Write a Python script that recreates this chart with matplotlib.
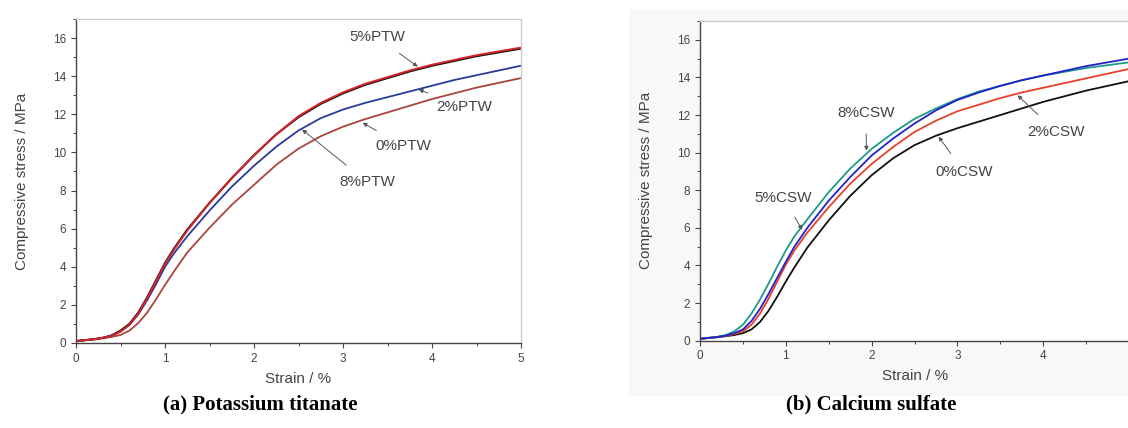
import matplotlib.pyplot as plt
from matplotlib.patches import Rectangle
from matplotlib.ticker import MultipleLocator

plt.rcParams['font.family'] = ['Liberation Sans', 'DejaVu Sans']

# strain values (%) shared by all curves
strain = [0, 0.2, 0.3, 0.4, 0.5, 0.6, 0.7, 0.8, 0.9, 1.0, 1.1, 1.25, 1.5, 1.75,
          2, 2.25, 2.5, 2.75, 3, 3.25, 3.5, 3.75, 4, 4.25, 4.5, 4.75, 5]

# (a) potassium titanate whisker
ptw_8 = [0.1, 0.2, 0.27, 0.4, 0.65, 1.0, 1.6, 2.4, 3.3, 4.2, 4.95, 5.95, 7.35, 8.65,
         9.85, 10.95, 11.85, 12.55, 13.1, 13.55, 13.9, 14.25, 14.55, 14.8, 15.05, 15.25, 15.45]
ptw_5 = [0.1, 0.2, 0.27, 0.38, 0.6, 0.95, 1.55, 2.35, 3.25, 4.15, 4.9, 5.9, 7.35, 8.65,
         9.85, 10.95, 11.9, 12.6, 13.15, 13.6, 13.95, 14.3, 14.6, 14.85, 15.1, 15.3, 15.5]
ptw_2 = [0.1, 0.2, 0.27, 0.38, 0.6, 0.95, 1.5, 2.25, 3.1, 4.0, 4.7, 5.6, 6.95, 8.2,
         9.3, 10.3, 11.15, 11.8, 12.25, 12.6, 12.9, 13.2, 13.5, 13.8, 14.05, 14.3, 14.55]
ptw_0 = [0.1, 0.18, 0.25, 0.32, 0.42, 0.65, 1.05, 1.6, 2.3, 3.05, 3.75, 4.75, 6.05, 7.25,
         8.3, 9.35, 10.2, 10.85, 11.35, 11.75, 12.1, 12.45, 12.8, 13.1, 13.4, 13.65, 13.9]

# (b) calcium sulfate whisker
csw_8 = [0.1, 0.2, 0.3, 0.5, 0.85, 1.45, 2.2, 3.05, 3.95, 4.8, 5.55, 6.45, 7.9, 9.15,
         10.2, 11.05, 11.8, 12.35, 12.85, 13.25, 13.55, 13.85, 14.1, 14.3, 14.5, 14.65, 14.8]
csw_5 = [0.1, 0.2, 0.27, 0.4, 0.6, 1.05, 1.7, 2.5, 3.35, 4.2, 5.0, 6.0, 7.45, 8.7,
         9.85, 10.75, 11.55, 12.25, 12.8, 13.2, 13.55, 13.85, 14.1, 14.35, 14.6, 14.8, 15.0]
csw_2 = [0.1, 0.2, 0.26, 0.35, 0.5, 0.85, 1.45, 2.25, 3.15, 4.05, 4.8, 5.75, 7.1, 8.35,
         9.4, 10.3, 11.1, 11.7, 12.2, 12.55, 12.9, 13.2, 13.45, 13.7, 13.95, 14.2, 14.45]
csw_0 = [0.1, 0.18, 0.24, 0.3, 0.4, 0.6, 1.0, 1.6, 2.35, 3.15, 3.9, 4.95, 6.4, 7.7,
         8.8, 9.7, 10.4, 10.9, 11.3, 11.65, 12.0, 12.35, 12.7, 13.0, 13.3, 13.55, 13.8]

# label text, arrow tip, label position
ptw_labels = [('5%PTW', (3.84, 14.5), (3.38, 16.05)),
              ('2%PTW', (3.85, 13.3), (4.36, 12.4)),
              ('0%PTW', (3.22, 11.55), (3.68, 10.35)),
              ('8%PTW', (2.54, 11.2), (3.27, 8.45))]
csw_labels = [('8%CSW', (1.94, 10.1), (1.93, 12.1)),
              ('5%CSW', (1.19, 5.9), (0.97, 7.6)),
              ('2%CSW', (3.70, 13.05), (4.15, 11.1)),
              ('0%CSW', (2.78, 10.85), (3.08, 8.95))]


def style_axes(ax):
    ax.set_xlim(0, 5)
    ax.set_ylim(0, 17)
    ax.xaxis.set_major_locator(MultipleLocator(1))
    ax.xaxis.set_minor_locator(MultipleLocator(0.5))
    ax.yaxis.set_major_locator(MultipleLocator(2))
    ax.yaxis.set_minor_locator(MultipleLocator(1))
    ax.tick_params(which='major', length=3.5, width=0.8, labelsize=8.5,
                   colors='#444444', direction='out')
    ax.tick_params(which='minor', length=2, width=0.7, colors='#444444',
                   direction='out')
    for s in ['left', 'bottom']:
        ax.spines[s].set_color('#444444')
        ax.spines[s].set_linewidth(1.0)
    for s in ['top', 'right']:
        ax.spines[s].set_color('#cccccc')
        ax.spines[s].set_linewidth(1.0)
    ax.set_xlabel('Strain / %', fontsize=11, color='#444444', labelpad=5)
    ax.set_ylabel('Compressive stress / MPa', fontsize=11, color='#444444',
                  labelpad=17)


def add_labels(ax, labels):
    for text, tip, pos in labels:
        ax.annotate(text, xy=tip, xytext=pos, fontsize=11, color='#444444',
                    ha='center', va='center',
                    arrowprops=dict(arrowstyle='-|>', color='#555555', lw=0.7,
                                    mutation_scale=6, shrinkA=8, shrinkB=0))


fig = plt.figure(figsize=(11.28, 4.28), dpi=100)
fig.patches.append(Rectangle((0.558, 0.075), 0.442, 0.905, transform=fig.transFigure,
                             facecolor='#f8f8f8', edgecolor='none', zorder=-5))

ax1 = fig.add_axes([0.0674, 0.1986, 0.3945, 0.757])
ax1.plot(strain, ptw_0, color='#a8453c', lw=1.3)
ax1.plot(strain, ptw_2, color='#2a3a9a', lw=1.3)
ax1.plot(strain, ptw_8, color='#111111', lw=1.5)
ax1.plot(strain, ptw_5, color='#d8232a', lw=1.4)
style_axes(ax1)
add_labels(ax1, ptw_labels)

ax2 = fig.add_axes([0.6206, 0.2040, 0.3804, 0.747])
ax2.set_facecolor('white')
ax2.plot(strain, csw_0, color='#111111', lw=1.3)
ax2.plot(strain, csw_2, color='#e8402a', lw=1.3)
ax2.plot(strain, csw_8, color='#1f9a8a', lw=1.3)
ax2.plot(strain, csw_5, color='#2222c8', lw=1.3)
style_axes(ax2)
ax2.spines['right'].set_visible(False)
ax2.set_xticks([0, 1, 2, 3, 4])
add_labels(ax2, csw_labels)

fig.text(0.231, 0.054, '(a) Potassium titanate', ha='center', va='center',
         fontsize=15, fontweight='bold', family='Liberation Serif')
fig.text(0.772, 0.054, '(b) Calcium sulfate', ha='center', va='center',
         fontsize=15, fontweight='bold', family='Liberation Serif')

fig.savefig('out.png', dpi=100)
plt.close(fig)
